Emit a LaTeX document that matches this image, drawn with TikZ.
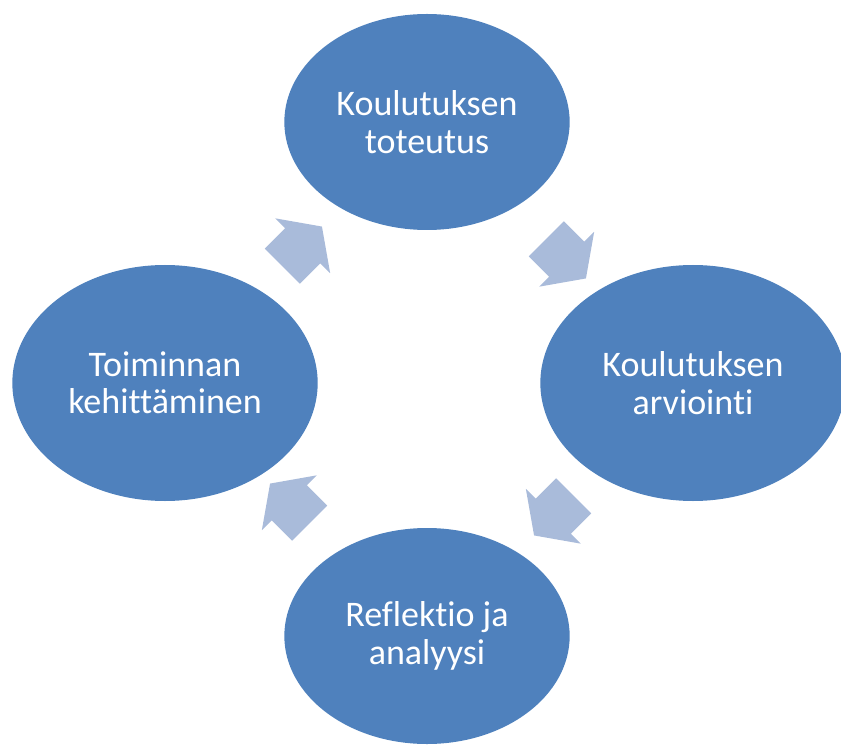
\documentclass[tikz,border=0pt]{standalone}
\usepackage{fontspec}
\setmainfont[Ligatures={NoCommon}]{Carlito}
\usetikzlibrary{shapes.geometric,shapes.arrows,calc}
\definecolor{phaseblue}{HTML}{4F81BD}
\definecolor{flowblue}{HTML}{A9BBDA}
\begin{document}
\begin{tikzpicture}[
        x=0.75pt, y=0.75pt,
        phase/.style={ellipse, fill=phaseblue, text=white, align=center, inner sep=0pt, font=\fontsize{27}{28}\selectfont},
        tall/.style={minimum width=214pt, minimum height=162pt},
        wide/.style={minimum width=229pt, minimum height=177pt},
        flow/.style={single arrow, fill=flowblue, inner xsep=0pt, inner ysep=18.4pt, minimum height=42pt, single arrow head extend=10.5pt, single arrow tip angle=110}
    ]
        \useasboundingbox (0,0) rectangle (841,747);

        % Cycle - four phases
        \node[phase, tall] (toteutus) at (427,625) {Koulutuksen\\toteutus};
        \node[phase, wide] (arviointi) at (693,364) {Koulutuksen\\arviointi};
        \node[phase, tall] (reflektio) at (427,111) {Reflektio ja\\analyysi};
        \node[phase, wide] (kehitys) at (165,364) {Toiminnan\\kehittäminen};

        % Arrows between phases
        \node[flow, rotate=-45] (a1) at ($(toteutus)!0.5!(arviointi)$) {};
        \node[flow, rotate=-135] (a2) at ($(arviointi)!0.5!(reflektio)$) {};
        \node[flow, rotate=135] (a3) at ($(reflektio)!0.5!(kehitys)$) {};
        \node[flow, rotate=45] (a4) at ($(kehitys)!0.5!(toteutus)$) {};

    \end{tikzpicture}
\end{document}
